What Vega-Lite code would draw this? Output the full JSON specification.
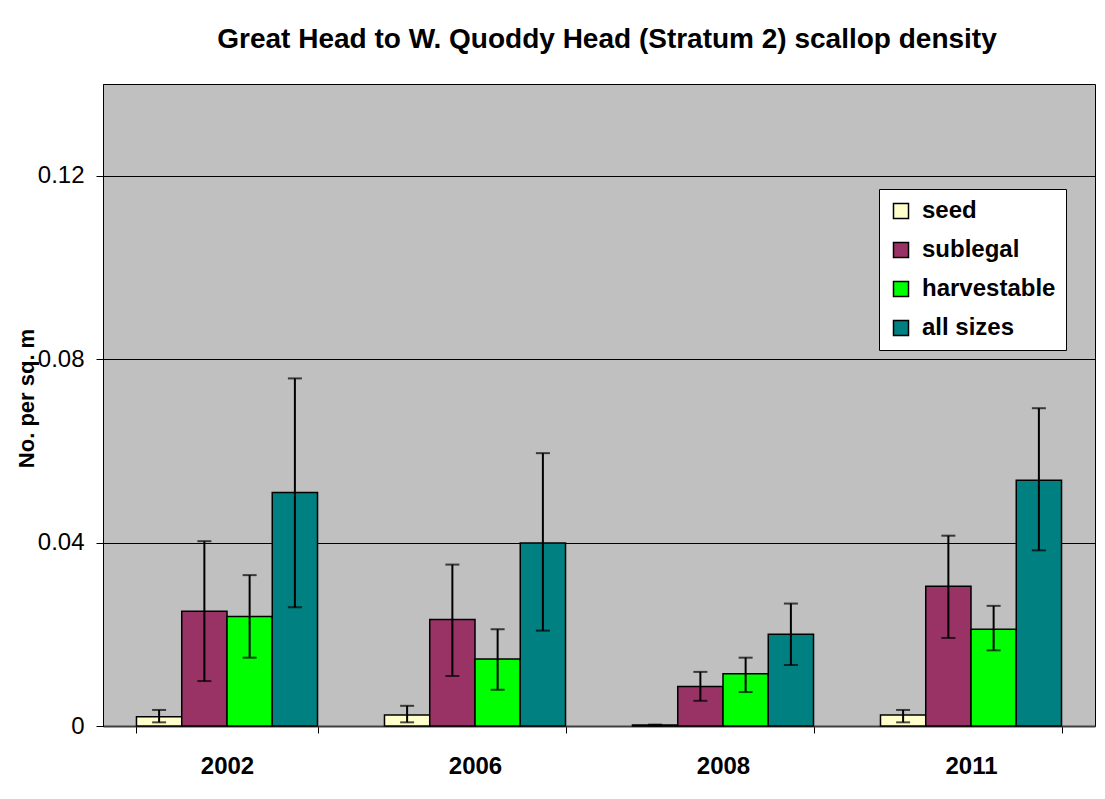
{
  "$schema": "https://vega.github.io/schema/vega-lite/v6.json",
  "autosize": "none",
  "width": 992,
  "height": 642,
  "padding": {"left": 103, "top": 84, "right": 10, "bottom": 73},
  "background": "white",
  "config": {
    "font": "Liberation Sans",
    "view": {"fill": "#C0C0C0", "stroke": "#000000", "strokeWidth": 1}
  },
  "title": {
    "text": "Great Head to W. Quoddy Head (Stratum 2) scallop density",
    "font": "Liberation Sans",
    "fontSize": 28,
    "fontWeight": "bold",
    "color": "#000000",
    "anchor": "middle",
    "baseline": "alphabetic",
    "offset": 8,
    "dx": 8
  },
  "data": {
    "values": [
      {"year": "2002", "size": "seed", "value": 0.0020, "lo": 0.0008, "hi": 0.0035},
      {"year": "2002", "size": "sublegal", "value": 0.0250, "lo": 0.0098, "hi": 0.0403},
      {"year": "2002", "size": "harvestable", "value": 0.0239, "lo": 0.0149, "hi": 0.0329},
      {"year": "2002", "size": "all sizes", "value": 0.0509, "lo": 0.0259, "hi": 0.0758},
      {"year": "2006", "size": "seed", "value": 0.0024, "lo": 0.0008, "hi": 0.0044},
      {"year": "2006", "size": "sublegal", "value": 0.0232, "lo": 0.0109, "hi": 0.0352},
      {"year": "2006", "size": "harvestable", "value": 0.0146, "lo": 0.0079, "hi": 0.0211},
      {"year": "2006", "size": "all sizes", "value": 0.0399, "lo": 0.0208, "hi": 0.0595},
      {"year": "2008", "size": "seed", "value": 0.0002, "lo": 0.0001, "hi": 0.0003},
      {"year": "2008", "size": "sublegal", "value": 0.0086, "lo": 0.0055, "hi": 0.0118},
      {"year": "2008", "size": "harvestable", "value": 0.0114, "lo": 0.0074, "hi": 0.0149},
      {"year": "2008", "size": "all sizes", "value": 0.0200, "lo": 0.0133, "hi": 0.0267},
      {"year": "2011", "size": "seed", "value": 0.0024, "lo": 0.0008, "hi": 0.0035},
      {"year": "2011", "size": "sublegal", "value": 0.0305, "lo": 0.0192, "hi": 0.0415},
      {"year": "2011", "size": "harvestable", "value": 0.0211, "lo": 0.0165, "hi": 0.0262},
      {"year": "2011", "size": "all sizes", "value": 0.0536, "lo": 0.0383, "hi": 0.0693}
    ]
  },
  "encoding": {
    "x": {
      "field": "year",
      "type": "nominal",
      "scale": {"paddingInner": 0.27, "paddingOuter": 0.135},
      "axis": {
        "title": null,
        "labelAngle": 0,
        "labelFontSize": 24,
        "labelFontWeight": "bold",
        "labelColor": "#000000",
        "labelPadding": 21,
        "tickBand": "extent",
        "tickSize": 7,
        "tickColor": "#000000",
        "domainColor": "#404040",
        "domainWidth": 2,
        "grid": false
      }
    },
    "xOffset": {
      "field": "size",
      "type": "nominal",
      "sort": ["seed", "sublegal", "harvestable", "all sizes"],
      "scale": {"paddingInner": 0, "paddingOuter": 0}
    }
  },
  "layer": [
    {
      "mark": {"type": "bar", "stroke": "#000000", "strokeWidth": 1.5},
      "encoding": {
        "y": {
          "field": "value",
          "type": "quantitative",
          "scale": {"domain": [0, 0.14], "nice": false},
          "axis": {
            "values": [0, 0.04, 0.08, 0.12],
            "format": "~g",
            "title": "No. per sq. m",
            "titleFontSize": 22,
            "titleFontWeight": "bold",
            "titleColor": "#000000",
            "titleAngle": -90,
            "titleAlign": "center",
            "titleBaseline": "middle",
            "titleX": -77,
            "titleY": 314,
            "labelFontSize": 24,
            "labelColor": "#000000",
            "labelPadding": 12,
            "tickSize": 7,
            "tickColor": "#000000",
            "domainColor": "#000000",
            "grid": true,
            "gridColor": "#000000",
            "gridOpacity": 1,
            "gridWidth": 1
          }
        },
        "fill": {
          "field": "size",
          "type": "nominal",
          "sort": ["seed", "sublegal", "harvestable", "all sizes"],
          "scale": {
            "domain": ["seed", "sublegal", "harvestable", "all sizes"],
            "range": ["#FFFFCC", "#993366", "#00FF00", "#008080"]
          },
          "legend": {
            "title": null,
            "orient": "none",
            "legendX": 776,
            "legendY": 105,
            "fillColor": "#FFFFFF",
            "strokeColor": "#000000",
            "padding": 10,
            "rowPadding": 15,
            "symbolType": "square",
            "symbolSize": 225,
            "symbolStrokeColor": "#000000",
            "symbolStrokeWidth": 1.5,
            "labelFontSize": 24,
            "labelFontWeight": "bold",
            "labelColor": "#000000",
            "labelOffset": 9
          }
        }
      }
    },
    {
      "mark": {"type": "rule", "color": "#000000", "strokeWidth": 2},
      "encoding": {
        "y": {"field": "lo", "type": "quantitative"},
        "y2": {"field": "hi"}
      }
    },
    {
      "mark": {"type": "tick", "orient": "horizontal", "color": "#000000", "size": 14, "thickness": 2},
      "encoding": {
        "y": {"field": "lo", "type": "quantitative"}
      }
    },
    {
      "mark": {"type": "tick", "orient": "horizontal", "color": "#000000", "size": 14, "thickness": 2},
      "encoding": {
        "y": {"field": "hi", "type": "quantitative"}
      }
    }
  ]
}
